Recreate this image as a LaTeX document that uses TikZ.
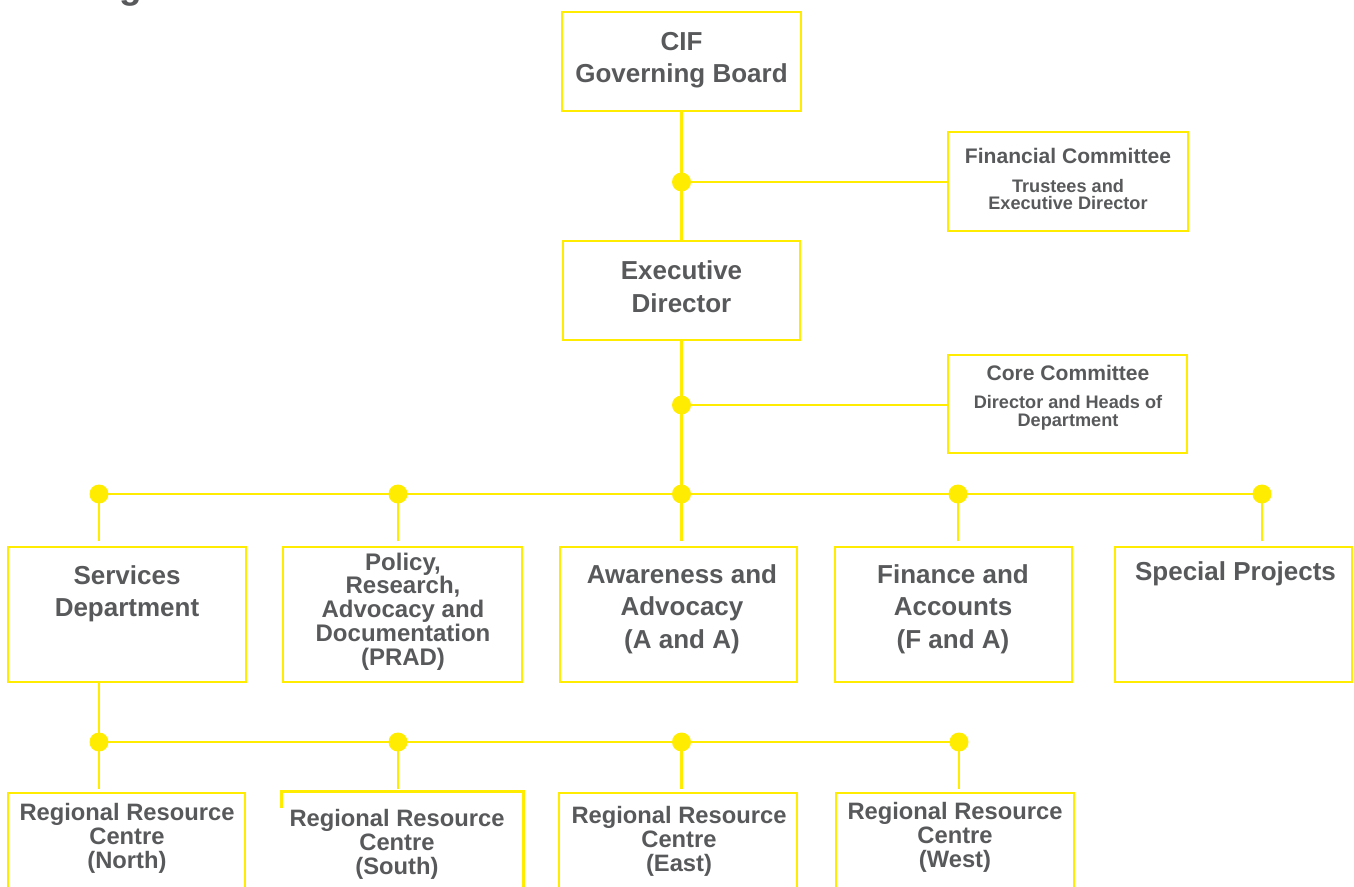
\documentclass[tikz,border=0pt]{standalone}
\usepackage{fontspec}
\setmainfont{Liberation Sans}
\usetikzlibrary{fit}
\definecolor{cifyellow}{RGB}{255,236,0}
\definecolor{cifgrey}{RGB}{88,89,91}
\begin{document}
\begin{tikzpicture}[x=0.75pt,y=-0.75pt,
		box/.style={draw=cifyellow,line width=1.9pt,inner sep=0pt},
		link/.style={draw=cifyellow,line width=2.1pt},
		joint/.style={circle,fill=cifyellow,inner sep=0pt,minimum size=14.25pt},
		bigtext/.style={text=cifgrey,align=center,inner sep=0pt,font=\fontsize{19.5}{24.4}\selectfont\bfseries},
		midtext/.style={text=cifgrey,align=center,inner sep=0pt,font=\fontsize{17.8}{18}\selectfont\bfseries},
		headtext/.style={text=cifgrey,align=center,inner sep=0pt,font=\fontsize{15.8}{18}\selectfont\bfseries},
		subtext/.style={text=cifgrey,align=center,inner sep=0pt,font=\fontsize{13.6}{13.4}\selectfont\bfseries}]
		\useasboundingbox (0,0) rectangle (1354,886);
		\clip (0,0) rectangle (1354,886);
		% title, cut off at the top
		\node[text=cifgrey,anchor=base west,inner sep=0pt,font=\fontsize{27.75}{30}\selectfont\bfseries] (title) at (6,-1.5) {CIF Organisation Structure};
		
		% boxes
		\node[box,fit={(562,12) (801,111)}] (board) {};
		\node[box,fit={(948,132) (1188,231)}] (fincom) {};
		\node[box,fit={(563,241) (800,340)}] (exec) {};
		\node[box,fit={(948,355) (1187,453)}] (core) {};
		\node[box,fit={(8,547) (246,682)}] (svc) {};
		\node[box,fit={(283,547) (522,682)}] (prad) {};
		\node[box,fit={(560,547) (797,682)}] (awa) {};
		\node[box,fit={(835,547) (1072,682)}] (fin) {};
		\node[box,fit={(1115,547) (1352,682)}] (spec) {};
		\node[box,fit={(8,793) (245,900)}] (north) {};
		\node[box,draw=none,fit={(283,793) (522,900)}] (south) {};
		\node[box,fit={(559,793) (797,900)}] (east) {};
		\node[box,fit={(836,793) (1074,900)}] (west) {};
		\draw[box] ([yshift=-12pt]south.north west) -- (south.north west) -- (south.north east) -- (south.south east);
		
		% joints
		\node[joint] (dfin) at (681.5,182) {};
		\node[joint] (dcore) at (681.5,405) {};
		\node[joint] (dsvc) at (99,494) {};
		\node[joint] (dprad) at (398,494) {};
		\node[joint] (dawa) at (681.5,494) {};
		\node[joint] (dfa) at (958,494) {};
		\node[joint] (dspec) at (1262,494) {};
		\node[joint] (dnorth) at (99,742) {};
		\node[joint] (dsouth) at (398,742) {};
		\node[joint] (deast) at (681.5,742) {};
		\node[joint] (dwest) at (959,742) {};
		
		% top of the tree
		\draw[link] (board.south) -- (exec.north);
		\draw[link] (dfin.center) -- (dfin -| fincom.west);
		\draw[link] (exec.south) -- (dawa.center);
		\draw[link] (dcore.center) -- (dcore -| core.west);
		% departments
		\draw[link] (dsvc.center) -- (dspec.center);
		\draw[link] (dsvc.center) -- ([yshift=3.75pt]dsvc |- svc.north);
		\draw[link] (dprad.center) -- ([yshift=3.75pt]dprad |- prad.north);
		\draw[link] (dawa.center) -- ([yshift=3.75pt]dawa |- awa.north);
		\draw[link] (dfa.center) -- ([yshift=3.75pt]dfa |- fin.north);
		\draw[link] (dspec.center) -- ([yshift=3.75pt]dspec |- spec.north);
		% regional centres
		\draw[link] (dnorth |- svc.south) -- (dnorth.center);
		\draw[link] (dnorth.center) -- (dwest.center);
		\draw[link] (dnorth.center) -- ([yshift=2.25pt]dnorth |- north.north);
		\draw[link] (dsouth.center) -- ([yshift=2.25pt]dsouth |- south.north);
		\draw[link] (deast.center) -- ([yshift=2.25pt]deast |- east.north);
		\draw[link] (dwest.center) -- ([yshift=2.25pt]dwest |- west.north);
		
		% texts
		\node[bigtext] (tboard) at (681.5,60) {CIF\\Governing Board};
		\node[headtext] (tfincom) at (1068,155.5) {Financial Committee};
		\node[subtext] (sfincom) at (1068,194.5) {Trustees and\\Executive Director};
		\node[bigtext] (texec) at (681.5,286.5) {Executive\\Director};
		\node[headtext] (tcore) at (1068,372.5) {Core Committee};
		\node[subtext] (score) at (1068,413) {Director and Heads of\\Department};
		\node[bigtext] (tsvc) at (127,594) {Services\\Department};
		\node[midtext,font=\fontsize{18}{17.8}\selectfont\bfseries] (tprad) at (403,611.5) {Policy,\\Research,\\Advocacy and\\Documentation\\(PRAD)};
		\node[bigtext] (tawa) at (682,609) {Awareness and\\Advocacy\\(A and A)};
		\node[bigtext] (tfin) at (953,609) {Finance and\\Accounts\\(F and A)};
		\node[bigtext] (tspec) at (1235.5,574) {Special Projects};
		\node[midtext] (tnorth) at (127,838) {Regional Resource\\Centre\\(North)};
		\node[midtext] (tsouth) at (397,844) {Regional Resource\\Centre\\(South)};
		\node[midtext] (teast) at (679,841) {Regional Resource\\Centre\\(East)};
		\node[midtext] (twest) at (955,837.5) {Regional Resource\\Centre\\(West)};
	\end{tikzpicture}
\end{document}
